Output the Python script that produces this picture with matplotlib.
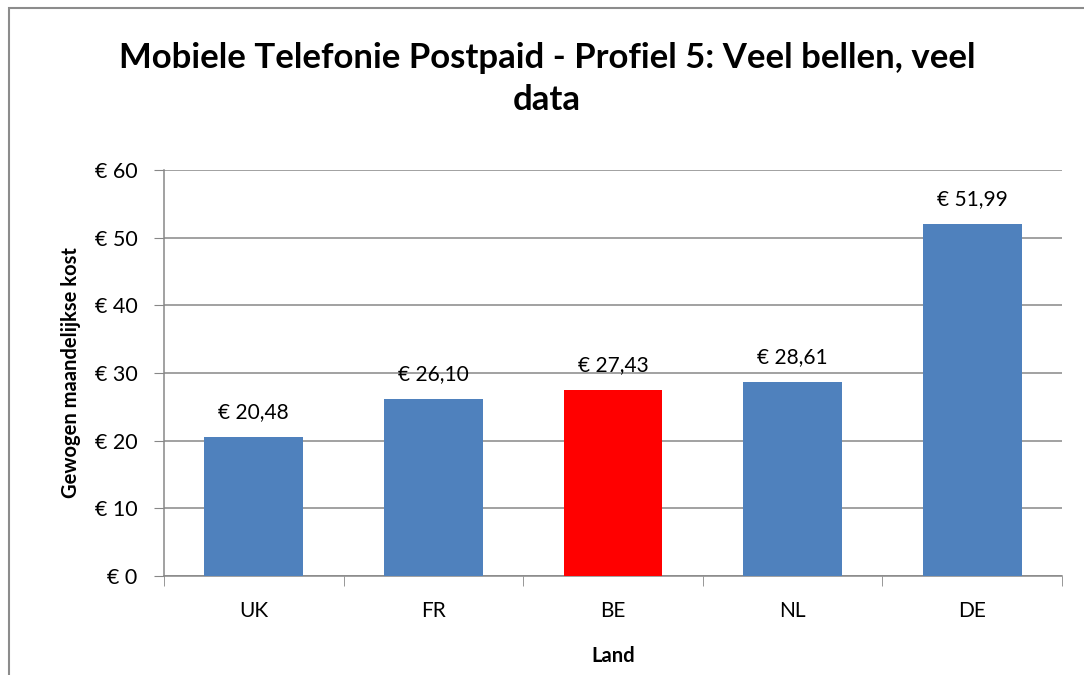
import matplotlib
matplotlib.use("Agg")
import matplotlib.pyplot as plt
from matplotlib.patches import Rectangle
from matplotlib.ticker import FuncFormatter

categories = ["UK", "FR", "BE", "NL", "DE"]
values = [20.48, 26.10, 27.43, 28.61, 51.99]
bar_colors = ["#4F81BD", "#4F81BD", "#FF0000", "#4F81BD", "#4F81BD"]
title = "Mobiele Telefonie Postpaid - Profiel 5: Veel bellen, veel\ndata"
ylabel = "Gewogen maandelijkse kost"
xlabel = "Land"
yticks = [0, 10, 20, 30, 40, 50, 60]

plt.rcParams['font.family'] = ['Lato', 'DejaVu Sans']

W, H = 1084, 675
fig = plt.figure(figsize=(W / 100, H / 100), dpi=100)
fig.patch.set_facecolor("white")

# outer chart border (left/top visible)
fig.add_artist(Rectangle((9 / W, -0.05), 1.2, (H - 8) / H + 0.05, transform=fig.transFigure,
                         fill=False, edgecolor="#8C8C8C", linewidth=1.5))

left, right, top, bottom = 164, 1062, 170, 576
ax = fig.add_axes([left / W, 1 - bottom / H, (right - left) / W, (bottom - top) / H])

x = list(range(len(categories)))
bars = ax.bar(x, values, width=0.55, color=bar_colors, zorder=3)
ax.set_xlim(-0.5, len(categories) - 0.5)
ax.set_ylim(0, 60)
ax.set_yticks(yticks)
ax.yaxis.set_major_formatter(FuncFormatter(lambda v, p: f"€ {int(v)}"))
ax.set_xticks(x)
ax.set_xticklabels(categories)
ax.set_xticks([i - 0.5 for i in range(len(categories) + 1)], minor=True)

ax.grid(axis="y", color="#878787", linewidth=1.1, zorder=0)
for s in ["top", "right"]:
    ax.spines[s].set_visible(False)
for s in ["left", "bottom"]:
    ax.spines[s].set_color("#878787")
    ax.spines[s].set_linewidth(1.1)

ax.tick_params(axis="y", length=7, color="#878787", labelsize=15.5, pad=12)
ax.tick_params(axis="x", which="major", length=0, labelsize=15, pad=18)
ax.tick_params(axis="x", which="minor", length=7, color="#878787")

for xi, v in zip(x, values):
    ax.annotate(f"€ {v:.2f}".replace(".", ","), (xi, v), xytext=(0, 11),
                textcoords="offset points", ha="center", va="bottom", fontsize=15)

ax.set_ylabel(ylabel, fontsize=14.5, fontweight="bold", labelpad=10)
ax.set_xlabel(xlabel, fontsize=14.5, fontweight="bold", labelpad=18)

fig.text(547 / W, 1 - 79 / H, title, ha="center", va="center", fontsize=25,
         fontweight="bold", linespacing=1.4)

fig.savefig("out.png", dpi=100)
